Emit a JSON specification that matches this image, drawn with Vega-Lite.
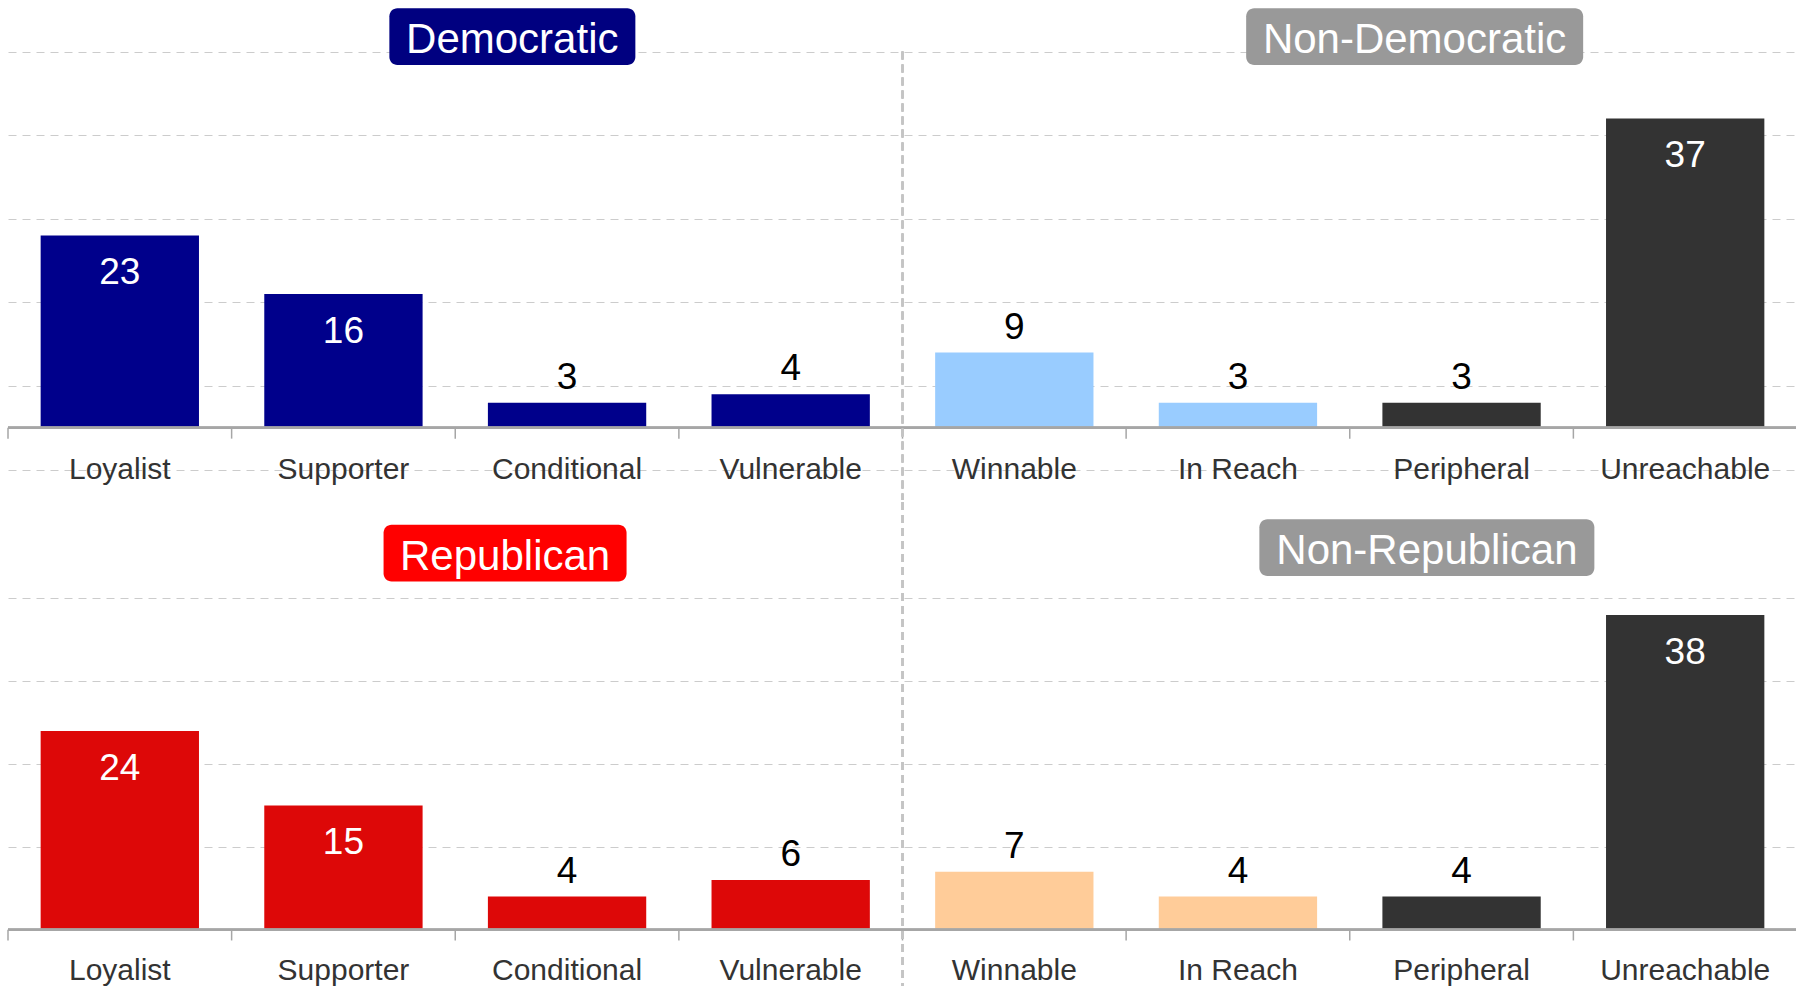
{
  "$schema": "https://vega.github.io/schema/vega-lite/v6.json",
  "padding": {"left": 7, "right": 0, "top": 0, "bottom": 0},
  "spacing": 0,
  "config": {"view": {"stroke": null}, "font": "Liberation Sans"},
  "datasets": {
    "dem": [
      {"category": "Loyalist", "value": 23, "segment": "Democratic"},
      {"category": "Supporter", "value": 16, "segment": "Democratic"},
      {"category": "Conditional", "value": 3, "segment": "Democratic"},
      {"category": "Vulnerable", "value": 4, "segment": "Democratic"},
      {"category": "Winnable", "value": 9, "segment": "Reachable non-Democratic"},
      {"category": "In Reach", "value": 3, "segment": "Reachable non-Democratic"},
      {"category": "Peripheral", "value": 3, "segment": "Out of reach"},
      {"category": "Unreachable", "value": 37, "segment": "Out of reach"}
    ],
    "rep": [
      {"category": "Loyalist", "value": 24, "segment": "Republican"},
      {"category": "Supporter", "value": 15, "segment": "Republican"},
      {"category": "Conditional", "value": 4, "segment": "Republican"},
      {"category": "Vulnerable", "value": 6, "segment": "Republican"},
      {"category": "Winnable", "value": 7, "segment": "Reachable non-Republican"},
      {"category": "In Reach", "value": 4, "segment": "Reachable non-Republican"},
      {"category": "Peripheral", "value": 4, "segment": "Out of reach"},
      {"category": "Unreachable", "value": 38, "segment": "Out of reach"}
    ]
  },
  "vconcat": [
    {
      "width": 1789,
      "height": 500,
      "data": {"name": "dem"},
      "encoding": {
        "x": {
          "field": "category", "type": "nominal",
          "scale": {"domain": ["Loyalist", "Supporter", "Conditional", "Vulnerable", "Winnable", "In Reach", "Peripheral", "Unreachable"], "paddingInner": 0, "paddingOuter": 0},
          "axis": null
        }
      },
      "layer": [
        {
          "mark": {"type": "bar", "width": {"band": 0.708}},
          "encoding": {
            "y": {
              "field": "value", "type": "quantitative",
              "scale": {"domain": [-8.64, 51.17], "nice": false},
              "axis": {"values": [-5, 5, 15, 25, 35, 45], "grid": true, "gridDash": [8, 6], "gridColor": "#cccccc", "gridWidth": 1, "domain": false, "ticks": false, "labels": false, "title": null}
            },
            "y2": {"datum": 0},
            "color": {
              "field": "segment", "type": "nominal", "legend": null,
              "scale": {"domain": ["Democratic", "Reachable non-Democratic", "Out of reach", "Republican", "Reachable non-Republican"], "range": ["#00008B", "#99CCFF", "#333333", "#DD0808", "#FFCC99"]}
            }
          }
        },
        {
          "mark": {"type": "rule", "color": "#a6a6a6", "strokeWidth": 2},
          "encoding": {"x": null, "y": {"datum": 0}}
        },
        {
          "mark": {"type": "rule", "color": "#a6a6a6", "strokeWidth": 1.5},
          "encoding": {"x": {"field": "category", "type": "nominal", "bandPosition": 0}, "y": {"datum": 0}, "y2": {"datum": -1.3}}
        },
        {
          "mark": {"type": "rule", "color": "#c4c4c4", "strokeWidth": 1.6, "strokeDash": [8, 5]},
          "encoding": {"x": {"datum": "Winnable", "type": "nominal", "bandPosition": 0}, "y": {"datum": 45}, "y2": {"datum": -8.64}}
        },
        {
          "mark": {"type": "text", "fontSize": 30, "color": "#333333", "baseline": "middle", "font": "Liberation Sans"},
          "encoding": {"y": {"datum": -5}, "text": {"field": "category"}}
        },
        {
          "transform": [{"filter": "datum.value >= 10"}],
          "mark": {"type": "text", "fontSize": 37, "color": "white", "baseline": "alphabetic", "dy": 49, "font": "Liberation Sans"},
          "encoding": {"y": {"field": "value", "type": "quantitative"}, "text": {"field": "value"}}
        },
        {
          "transform": [{"filter": "datum.value < 10"}],
          "mark": {"type": "text", "fontSize": 37, "color": "black", "baseline": "alphabetic", "dy": -14, "font": "Liberation Sans"},
          "encoding": {"y": {"field": "value", "type": "quantitative"}, "text": {"field": "value"}}
        },
        {
          "data": {"values": [{"label": "Democratic"}]},
          "mark": {"type": "bar", "width": 246, "cornerRadius": 8, "color": "#000080", "xOffset": -54.7},
          "encoding": {"x": {"datum": "Conditional", "type": "nominal"}, "y": {"datum": 50.18}, "y2": {"datum": 43.4}}
        },
        {
          "data": {"values": [{"label": "Democratic"}]},
          "mark": {"type": "text", "fontSize": 42, "color": "white", "baseline": "alphabetic", "font": "Liberation Sans"},
          "encoding": {"x": {"datum": "Conditional", "type": "nominal", "bandPosition": 0.255}, "y": {"datum": 44.8}, "text": {"field": "label"}}
        },
        {
          "data": {"values": [{"label": "Non-Democratic"}]},
          "mark": {"type": "bar", "width": 337, "cornerRadius": 8, "color": "#999999", "xOffset": -46.9},
          "encoding": {"x": {"datum": "Peripheral", "type": "nominal"}, "y": {"datum": 50.18}, "y2": {"datum": 43.4}}
        },
        {
          "data": {"values": [{"label": "Non-Democratic"}]},
          "mark": {"type": "text", "fontSize": 42, "color": "white", "baseline": "alphabetic", "font": "Liberation Sans"},
          "encoding": {"x": {"datum": "Peripheral", "type": "nominal", "bandPosition": 0.29}, "y": {"datum": 44.8}, "text": {"field": "label"}}
        }
      ]
    },
    {
      "width": 1789,
      "height": 486,
      "data": {"name": "rep"},
      "encoding": {
        "x": {
          "field": "category", "type": "nominal",
          "scale": {"domain": ["Loyalist", "Supporter", "Conditional", "Vulnerable", "Winnable", "In Reach", "Peripheral", "Unreachable"], "paddingInner": 0, "paddingOuter": 0},
          "axis": null
        }
      },
      "layer": [
        {
          "mark": {"type": "bar", "width": {"band": 0.708}},
          "encoding": {
            "y": {
              "field": "value", "type": "quantitative",
              "scale": {"domain": [-7.04, 51.65], "nice": false},
              "axis": {"values": [10, 20, 30, 40], "grid": true, "gridDash": [8, 6], "gridColor": "#cccccc", "gridWidth": 1, "domain": false, "ticks": false, "labels": false, "title": null}
            },
            "y2": {"datum": 0},
            "color": {
              "field": "segment", "type": "nominal", "legend": null,
              "scale": {"domain": ["Democratic", "Reachable non-Democratic", "Out of reach", "Republican", "Reachable non-Republican"], "range": ["#00008B", "#99CCFF", "#333333", "#DD0808", "#FFCC99"]}
            }
          }
        },
        {
          "mark": {"type": "rule", "color": "#a6a6a6", "strokeWidth": 2},
          "encoding": {"x": null, "y": {"datum": 0}}
        },
        {
          "mark": {"type": "rule", "color": "#a6a6a6", "strokeWidth": 1.5},
          "encoding": {"x": {"field": "category", "type": "nominal", "bandPosition": 0}, "y": {"datum": 0}, "y2": {"datum": -1.3}}
        },
        {
          "mark": {"type": "rule", "color": "#c4c4c4", "strokeWidth": 1.6, "strokeDash": [8, 5]},
          "encoding": {"x": {"datum": "Winnable", "type": "nominal", "bandPosition": 0}, "y": {"datum": 51.65}, "y2": {"datum": -7.04}}
        },
        {
          "mark": {"type": "text", "fontSize": 30, "color": "#333333", "baseline": "middle", "font": "Liberation Sans"},
          "encoding": {"y": {"datum": -5}, "text": {"field": "category"}}
        },
        {
          "transform": [{"filter": "datum.value >= 10"}],
          "mark": {"type": "text", "fontSize": 37, "color": "white", "baseline": "alphabetic", "dy": 49, "font": "Liberation Sans"},
          "encoding": {"y": {"field": "value", "type": "quantitative"}, "text": {"field": "value"}}
        },
        {
          "transform": [{"filter": "datum.value < 10"}],
          "mark": {"type": "text", "fontSize": 37, "color": "black", "baseline": "alphabetic", "dy": -14, "font": "Liberation Sans"},
          "encoding": {"y": {"field": "value", "type": "quantitative"}, "text": {"field": "value"}}
        },
        {
          "data": {"values": [{"label": "Republican"}]},
          "mark": {"type": "bar", "width": 243, "cornerRadius": 8, "color": "#FF0000", "xOffset": -62},
          "encoding": {"x": {"datum": "Conditional", "type": "nominal"}, "y": {"datum": 48.9}, "y2": {"datum": 42.05}}
        },
        {
          "data": {"values": [{"label": "Republican"}]},
          "mark": {"type": "text", "fontSize": 42, "color": "white", "baseline": "alphabetic", "font": "Liberation Sans"},
          "encoding": {"x": {"datum": "Conditional", "type": "nominal", "bandPosition": 0.223}, "y": {"datum": 43.44}, "text": {"field": "label"}}
        },
        {
          "data": {"values": [{"label": "Non-Republican"}]},
          "mark": {"type": "bar", "width": 335, "cornerRadius": 8, "color": "#999999", "xOffset": -34.7},
          "encoding": {"x": {"datum": "Peripheral", "type": "nominal"}, "y": {"datum": 49.57}, "y2": {"datum": 42.72}}
        },
        {
          "data": {"values": [{"label": "Non-Republican"}]},
          "mark": {"type": "text", "fontSize": 42, "color": "white", "baseline": "alphabetic", "font": "Liberation Sans"},
          "encoding": {"x": {"datum": "Peripheral", "type": "nominal", "bandPosition": 0.345}, "y": {"datum": 44.13}, "text": {"field": "label"}}
        }
      ]
    }
  ]
}
